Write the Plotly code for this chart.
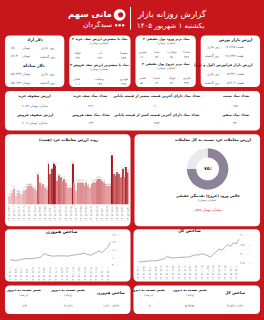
import plotly.graph_objects as go

W, H = 264, 320
RED = "#c8161d"
FONT = "DejaVu Sans"
DARK = "#222222"
GRAY = "#555555"

def fa(s):
    return str(s).translate(str.maketrans("0123456789", "۰۱۲۳۴۵۶۷۸۹"))

# ---------------- data ----------------
bar_months = {"1405/02": [29, 30, 31],
              "1405/03": [1, 2, 3, 4, 7, 8, 9, 10, 11, 14, 15, 16, 17, 18, 21, 22, 23, 24, 25, 28, 29, 30, 31],
              "1405/04": [1, 4, 5, 6, 7, 8, 11, 12, 13, 14, 15, 18, 19, 20, 21, 22, 25, 26, 27, 28, 29],
              "1405/05": [1, 2, 3, 4, 5, 8, 9, 10, 11, 12, 15, 16, 17, 18, 19, 22, 23, 24, 25, 26, 29, 30, 31]}
bar_dates = [f"{m}/{d:02d}" for m, ds in bar_months.items() for d in ds]
retail_value = [2.5, 2.5, 3.5, 4.8, 2.5, 3.5, 3.5, 3.0, 3.0, 4.0, 4.5, 5.5, 5.5, 5.5, 5.0, 4.5, 4.0, 8.8,
                6.5, 5.5, 6.0, 5.0, 4.5, 12.0, 9.0, 10.5, 12.0, 11.5, 7.0, 8.5, 8.0, 7.0, 7.5, 6.5, 5.0,
                5.0, 5.0, 12.0, 6.5, 4.0, 6.5, 6.5, 6.5, 6.5, 5.5, 6.5, 5.5, 5.0, 6.0, 6.5, 6.5, 7.0,
                7.5, 7.5, 7.0, 6.5, 6.0, 5.5, 5.5, 5.5, 14.5, 9.0, 8.5, 9.5, 9.0, 8.0, 10.5, 8.0, 11.0, 9.5]

line_dates = ["1404/03/01", "1404/03/11", "1404/03/21", "1404/03/31", "1404/04/10", "1404/04/20",
              "1404/04/30", "1404/05/09", "1404/05/19", "1404/05/29", "1404/06/08", "1404/06/18",
              "1404/06/28", "1404/07/07", "1404/07/17", "1404/07/27", "1404/08/06", "1404/08/16",
              "1404/08/26", "1404/09/05", "1404/09/15", "1404/09/25", "1404/10/05", "1404/10/15",
              "1404/10/25", "1404/11/05", "1404/11/15", "1404/11/25", "1404/12/05", "1404/12/15",
              "1405/01/15", "1405/02/05", "1405/03/01", "1405/04/01", "1405/05/01", "1405/05/31"]
equal_idx_k = [973, 965, 961, 969, 978, 986, 986, 982, 986, 994, 998, 1014, 1055, 1031, 1022, 1018,
               1022, 1018, 1022, 1022, 1018, 1026, 1031, 1035, 1047, 1043, 1055, 1039, 1031, 1047,
               1063, 1088, 1063, 1096, 1137, 1210]
total_idx_k = [2571, 2589, 2607, 2625, 2661, 2643, 2625, 2661, 2696, 2750, 2875, 2804, 2786, 2804,
               2821, 2804, 2839, 2821, 2857, 2911, 2964, 2946, 3018, 2982, 2929, 2839, 2982, 3107,
               3268, 3196, 3375, 3518, 3411, 3600, 3550, 3821]
equal_ticks = [900, 1000, 1100, 1200, 1300]
equal_ticktext = ["۹۰۰،۰۰۰", "۱،۰۰۰،۰۰۰", "۱،۱۰۰،۰۰۰", "۱،۲۰۰،۰۰۰", "۱،۳۰۰،۰۰۰"]
total_ticks = [2500, 3000, 3500, 4000]
total_ticktext = ["۲،۵۰۰،۰۰۰", "۳،۰۰۰،۰۰۰", "۳،۵۰۰،۰۰۰", "۴،۰۰۰،۰۰۰"]

donut_labels = ["خرد", "سایر"]
donut_values = [75, 25]

# ---------------- helpers ----------------
shapes = []
ann = []

def P(px, py):
    return f"{px / W:.5f},{1 - py / H:.5f}"

def rbox(x0, y0, x1, y1, r=5, fill="white"):
    path = (f"M{P(x0 + r, y0)} L{P(x1 - r, y0)} Q{P(x1, y0)} {P(x1, y0 + r)} "
            f"L{P(x1, y1 - r)} Q{P(x1, y1)} {P(x1 - r, y1)} L{P(x0 + r, y1)} "
            f"Q{P(x0, y1)} {P(x0, y1 - r)} L{P(x0, y0 + r)} Q{P(x0, y0)} {P(x0 + r, y0)} Z")
    shapes.append(dict(type="path", path=path, xref="paper", yref="paper",
                       fillcolor=fill, line=dict(width=0), layer="below"))

def circ(cx, cy, r, fill):
    shapes.append(dict(type="circle", xref="paper", yref="paper",
                       x0=(cx - r) / W, x1=(cx + r) / W, y0=1 - (cy + r) / H, y1=1 - (cy - r) / H,
                       fillcolor=fill, line=dict(width=0), layer="above"))

def T(px, py, text, size=4, color=GRAY, bold=False, anchor="center"):
    if bold:
        text = f"<b>{text}</b>"
    ann.append(dict(x=px / W, y=1 - py / H, xref="paper", yref="paper", text=text,
                    showarrow=False, font=dict(size=size, color=color, family=FONT),
                    xanchor=anchor, yanchor="middle", borderpad=0))

# ---------------- header ----------------
circ(119, 13, 6, "white")
circ(120, 13, 2.6, RED)
for dx in (115.5, 119, 122.5):
    circ(dx, 23.5, 1.2, "white")
T(112, 13, "مانی سهم", 8.5, "white", True, "right")
T(112, 23, "سبدگردان", 7, "white", False, "right")
shapes.append(dict(type="line", xref="paper", yref="paper", x0=130 / W, x1=130 / W,
                   y0=1 - 5 / H, y1=1 - 28 / H, line=dict(color="white", width=1)))
T(136, 12, "گزارش روزانه بازار", 8.5, "white", False, "left")
T(136, 24, "یکشنبه ۱ شهریور ۱۴۰۵", 7, "white", False, "left")

# ---------------- row 1 boxes ----------------
rbox(3, 34, 63, 86)
rbox(68, 34, 130, 86)
rbox(135, 34, 196, 86)
rbox(201, 34, 261, 86)

# box 1: dollar
T(33, 38, "دلار آزاد", 4, DARK, True)
T(55, 47, "روز جاری", 3.4, GRAY, False, "right")
T(8, 47, "۸۷،۰۰۰ تومان", 3.4, GRAY, False, "left")
T(55, 55, "روز گذشته", 3.4, GRAY, False, "right")
T(8, 55, "۸۶،۳۰۰ تومان", 3.4, GRAY, False, "left")
T(33, 65, "دلار مبادله", 4.3, DARK, True)
T(55, 73, "روز جاری", 3.4, GRAY, False, "right")
T(8, 73, "۵۸،۲۳۴ تومان", 3.4, GRAY, False, "left")
T(55, 82, "روز گذشته", 3.4, GRAY, False, "right")
T(8, 82, "۵۸،۱۳۲ تومان", 3.4, GRAY, False, "left")

# box 2: queues
T(99, 37.5, "۳ نماد با بیشترین ارزش صف خرید", 3.3, DARK, True)
T(99, 41.5, "(میلیارد تومان)", 3, GRAY)
for x, n, v in [(123, "شستا", "۲۵۴"), (99, "آپ", "۱۴۲"), (76, "فولاد", "۱۳۲")]:
    T(x, 52, n, 3.2, GRAY)
    T(x, 57, v, 3.2, GRAY)
T(99, 64, "۳ نماد با بیشترین ارزش صف فروش", 3.3, DARK, True)
T(99, 68, "(میلیارد تومان)", 3, GRAY)
for x, n, v in [(123, "خودرو", "۲۹۸"), (99, "وبملت", "۱۴۷"), (76, "فملی", "۱۰۱")]:
    T(x, 78, n, 3.2, GRAY)
    T(x, 83, v, 3.2, GRAY)

# box 3: money flow
T(166, 37.5, "۴ نماد برتر ورود پول حقیقی", 3.3, DARK, True)
T(166, 41.5, "(میلیارد تومان)", 3, GRAY)
for x, n, v in [(187, "خساپا", "۴۷۷"), (172, "وتجارت", "۵۶"), (157, "شپنا", "۴۵"), (142, "خودرو", "۱۸")]:
    T(x, 51, n, 3, GRAY)
    T(x, 56, v, 3, GRAY)
T(166, 63, "۴ نماد برتر خروج پول حقیقی", 3.3, DARK, True)
T(166, 67, "(میلیارد تومان)", 3, GRAY)
for x, n, v in [(187, "فارس", "۳۹۳"), (172, "فولاد", "۷۴"), (157, "شستا", "۶۴"), (142, "فملی", "۵۵")]:
    T(x, 77, n, 3, GRAY)
    T(x, 82, v, 3, GRAY)

# box 4: market value
T(254, 38, "ارزش بازار بورس", 3.8, DARK, True, "right")
T(246, 46, "۱۷،۷۲۵ همت", 3.4, GRAY, False, "right")
T(222, 46, "روز جاری", 3.2, GRAY, False, "right")
T(246, 55, "۱۷،۶۹۳ همت", 3.4, GRAY, False, "right")
T(222, 55, "روز گذشته", 3.2, GRAY, False, "right")
T(254, 64, "ارزش بازار فرابورس (اول و دوم)", 3.5, DARK, True, "right")
T(246, 73, "۵،۴۲۶ همت", 3.4, GRAY, False, "right")
T(222, 73, "روز جاری", 3.2, GRAY, False, "right")
T(246, 82, "۵،۴۰۲ همت", 3.4, GRAY, False, "right")
T(222, 82, "روز گذشته", 3.2, GRAY, False, "right")

# ---------------- row 2 table ----------------
rbox(3, 90, 261, 130)
T(237, 95, "تعداد نماد مثبت", 3.5, DARK, True)
T(237, 105, "۲۵۷", 3.3, GRAY)
T(237, 114, "تعداد نماد منفی", 3.5, DARK, True)
T(237, 123, "۳۳۰", 3.3, GRAY)
T(157, 95, "تعداد نماد دارای آخرین قیمت بیشتر از قیمت پایانی", 3.5, DARK, True)
T(157, 105, "۲۰۰", 3.3, GRAY)
T(157, 114, "تعداد نماد دارای آخرین قیمت کمتر از قیمت پایانی", 3.5, DARK, True)
T(157, 123, "۴۵۳", 3.3, GRAY)
T(90, 95, "تعداد نماد صف خرید", 3.5, DARK, True)
T(90, 105, "۲۲۳", 3.3, GRAY)
T(90, 114, "تعداد نماد صف فروش", 3.5, DARK, True)
T(90, 123, "۱۳۹", 3.3, GRAY)
T(33, 95, "ارزش صفوف خرید", 3.5, DARK, True)
T(33, 105, "۷۰۸۳ میلیارد تومان", 3.3, GRAY)
T(33, 114, "ارزش صفوف فروش", 3.5, DARK, True)
T(33, 123, "۶۰.۷ میلیارد تومان", 3.3, GRAY)

# ---------------- row 3 ----------------
rbox(3, 134, 130, 227)
rbox(134, 134, 261, 227)
T(67, 139, "روند ارزش معاملات خرد (همت)", 3.8, DARK, True)
T(213, 139, "ارزش معاملات خرد نسبت به کل معاملات", 3.8, DARK, True)
T(208, 169, "۷۵٪", 4.5, DARK, True)
T(208, 196, "خالص ورود (خروج) نقدینگی حقیقی", 3.6, DARK, True)
T(208, 201, "(میلیارد تومان)", 3, GRAY)
T(208, 211, "-۸۸۸ میلیارد تومان", 3.6, RED)

# ---------------- row 4 / 5 ----------------
rbox(3, 230, 130, 283)
rbox(133, 230, 261, 283)
T(60, 233, "شاخص هم‌وزن", 4.3, DARK, True)
T(190, 232, "شاخص کل", 4.3, DARK, True)

rbox(3, 287, 130, 316)
rbox(133, 287, 261, 316)
T(110, 294, "شاخص هم‌وزن", 3.8, DARK, True)
T(110, 308, "۱،۲۱۰،۷۶۳", 3.6, GRAY)
T(67, 292, "تغییر نسبت به دیروز", 3.4, DARK, True)
T(67, 297, "(واحد)", 3, GRAY)
T(67, 308, "۳،۱۲۱", 3.6, GRAY)
T(22, 292, "تغییر نسبت به دیروز", 3.4, DARK, True)
T(22, 297, "(درصد)", 3, GRAY)
T(22, 308, "۰.۲۳", 3.6, GRAY)
T(236, 294, "شاخص کل", 3.8, DARK, True)
T(236, 308, "۳،۸۲۱،۱۶۲", 3.6, GRAY)
T(190, 292, "تغییر نسبت به دیروز", 3.4, DARK, True)
T(190, 297, "(واحد)", 3, GRAY)
T(190, 308, "۵،۹۶۵", 3.6, GRAY)
T(148, 292, "تغییر نسبت به دیروز", 3.4, DARK, True)
T(148, 297, "(درصد)", 3, GRAY)
T(148, 308, "۰.۲", 3.6, GRAY)

# ---------------- traces ----------------
fig = go.Figure()
fig.add_trace(go.Bar(
    x=bar_dates, y=retail_value, xaxis="x", yaxis="y",
    marker=dict(color=retail_value, colorscale=[[0, "#f2c4c5"], [0.45, "#dc8a8d"], [1, "#a5171d"]],
                cmin=2.5, cmax=12, line=dict(width=0)),
    text=[fa(f"{v:.1f}") for v in retail_value], textposition="outside", textangle=0,
    constraintext="none",
    textfont=dict(size=2.2, color="#888", family=FONT), cliponaxis=False,
    showlegend=False))
fig.add_trace(go.Pie(
    labels=donut_labels, values=donut_values, hole=0.55, sort=False, direction="clockwise",
    rotation=0, textinfo="none", marker=dict(colors=["#8c8399", "#ebe9ee"], line=dict(width=0)),
    domain=dict(x=[(208 - 21) / W, (208 + 21) / W], y=[1 - 190 / H, 1 - 148 / H]),
    showlegend=False))
fig.add_trace(go.Scatter(
    x=line_dates, y=equal_idx_k, xaxis="x2", yaxis="y2", mode="lines",
    line=dict(color="#9a9a9a", width=0.8), showlegend=False))
fig.add_trace(go.Scatter(
    x=line_dates, y=total_idx_k, xaxis="x3", yaxis="y3", mode="lines",
    line=dict(color="#9a9a9a", width=0.8), showlegend=False))

tickfont = dict(size=3, color="#777", family=FONT)
fig.update_layout(
    width=W, height=H, margin=dict(l=0, r=0, t=0, b=0),
    paper_bgcolor=RED, plot_bgcolor="rgba(0,0,0,0)",
    font=dict(family=FONT),
    bargap=0.45,
    shapes=shapes, annotations=ann,
    xaxis=dict(domain=[6 / W, 128 / W], anchor="y", type="category", tickangle=-90,
               tickvals=bar_dates[::3], ticktext=[fa(d) for d in bar_dates[::3]],
               tickfont=tickfont, showgrid=False, showline=False, ticks="", zeroline=False),
    yaxis=dict(domain=[1 - 205 / H, 1 - 150 / H], anchor="x", range=[0, 16], visible=False),
    xaxis2=dict(domain=[8 / W, 110 / W], anchor="y2", type="category", tickangle=-90,
                tickvals=line_dates[::2], ticktext=[fa(d) for d in line_dates[::2]],
                tickfont=tickfont, showgrid=False, showline=False, ticks="", zeroline=False),
    yaxis2=dict(domain=[1 - 267 / H, 1 - 235 / H], anchor="x2", side="right", range=[895, 1305],
                tickvals=equal_ticks, ticktext=equal_ticktext, tickfont=tickfont,
                showgrid=False, zeroline=False, showline=False, ticks=""),
    xaxis3=dict(domain=[138 / W, 240 / W], anchor="y3", type="category", tickangle=-90,
                tickvals=line_dates[::2], ticktext=[fa(d) for d in line_dates[::2]],
                tickfont=tickfont, showgrid=False, showline=False, ticks="", zeroline=False),
    yaxis3=dict(domain=[1 - 265 / H, 1 - 236 / H], anchor="x3", side="right", range=[2480, 4020],
                tickvals=total_ticks, ticktext=total_ticktext, tickfont=tickfont,
                showgrid=False, zeroline=False, showline=False, ticks=""),
)

fig.write_html("out.html")
